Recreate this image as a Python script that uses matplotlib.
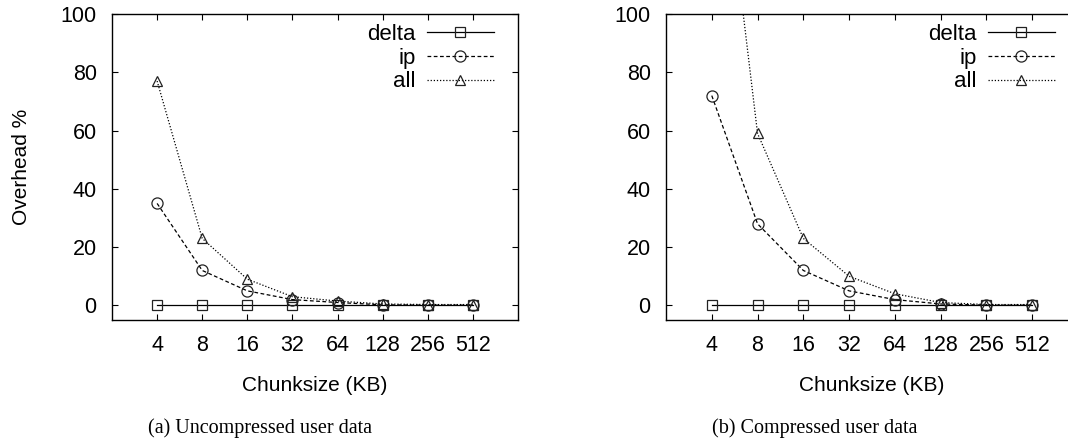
import numpy as np
import matplotlib.pyplot as plt

plt.rcParams['font.family'] = ['Liberation Sans', 'DejaVu Sans']

chunks = ['4', '8', '16', '32', '64', '128', '256', '512']

# (a) uncompressed user data
delta_a = [0, 0, 0, 0, 0, 0, 0, 0]
ip_a = [35, 12, 5, 2, 1, 0.2, 0.1, 0.1]
all_a = [77, 23, 9, 3, 1.5, 0.5, 0.3, 0.3]

# (b) compressed user data
delta_b = [0, 0, 0, 0, 0, 0, 0, 0]
ip_b = [72, 28, 12, 5, 2, 0.5, 0.1, 0.1]
all_b = [190, 59, 23, 10, 4, 1, 0.3, 0.3]

captions = ['(a) Uncompressed user data', '(b) Compressed user data']

W, H = 1068, 448
fig = plt.figure(figsize=(W / 100, H / 100), dpi=100)

boxes = [(112, 14, 518, 320), (666, 14, 1078, 320)]
series = [(delta_a, ip_a, all_a), (delta_b, ip_b, all_b)]
cap_x = [260, 815]
leg_anchor = [(0.962, 0.996), (0.965, 0.996)]

x = np.arange(len(chunks))
for i, ((l, t, r, b), (d, ip, al)) in enumerate(zip(boxes, series)):
    ax = fig.add_axes([l / W, 1 - b / H, (r - l) / W, (b - t) / H])
    ax.plot(x, d, color='black', lw=0.9, ls='-', marker='s', ms=7,
            mfc='none', mec='#222222', mew=0.9, label='delta')
    ax.plot(x, ip, color='black', lw=0.9, ls=(0, (3, 2)), marker='o', ms=8,
            mfc='none', mec='#222222', mew=0.9, label='ip')
    ax.plot(x, al, color='black', lw=0.9, ls=(0, (1, 1.5)), marker='^', ms=7.5,
            mfc='none', mec='#222222', mew=0.9, label='all')
    ax.set_xlim(-1, 8)
    ax.set_ylim(-5, 100)
    ax.set_xticks(x)
    ax.set_xticklabels(chunks)
    ax.set_yticks([0, 20, 40, 60, 80, 100])
    ax.tick_params(direction='in', length=4, width=0.8, labelsize=15.5,
                   top=True, right=True, pad=11)
    for s in ax.spines.values():
        s.set_linewidth(1.0)
    ax.set_xlabel('Chunksize (KB)', fontsize=15, labelpad=14)
    if i == 0:
        ax.set_ylabel('Overhead %', fontsize=15, labelpad=21)
    leg = ax.legend(loc='upper right', markerfirst=False, frameon=False,
                    fontsize=16, handlelength=3.0, handletextpad=0.5,
                    labelspacing=0.12, borderaxespad=0.0,
                    bbox_to_anchor=leg_anchor[i])
    fig.text(cap_x[i] / W, 1 - 428 / H, captions[i], ha='center', va='center',
             fontsize=14.5, family='Liberation Serif')

plt.savefig('out.png', dpi=100)
